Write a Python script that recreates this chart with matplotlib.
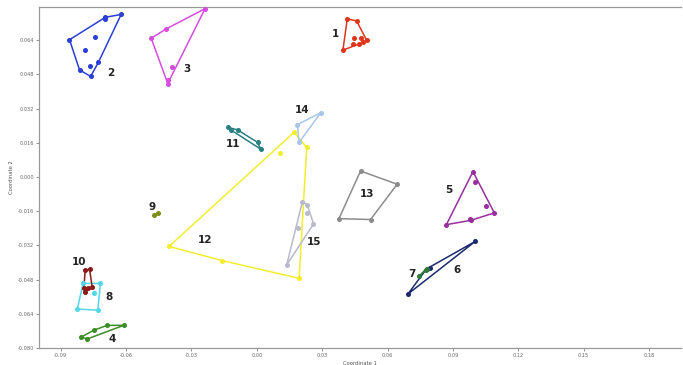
import numpy as np
import matplotlib.pyplot as plt

# cluster coordinates (Coordinate 1, Coordinate 2)
c1_x = [0.0415, 0.0458, 0.0504, 0.0395, 0.0446, 0.0480, 0.0443, 0.0487, 0.0469]
c1_y = [0.0739, 0.0730, 0.0639, 0.0593, 0.0651, 0.0649, 0.0622, 0.0630, 0.0622]
c2_x = [-0.0860, -0.0695, -0.0623, -0.0727, -0.0763, -0.0814, -0.0741, -0.0788, -0.0768, -0.0699]
c2_y = [0.0642, 0.0747, 0.0760, 0.0537, 0.0470, 0.0501, 0.0653, 0.0592, 0.0521, 0.0741]
c3_x = [-0.0485, -0.0238, -0.0409, -0.0417, -0.0391, -0.0406]
c3_y = [0.0649, 0.0787, 0.0437, 0.0692, 0.0515, 0.0452]
c4_x = [-0.0806, -0.0779, -0.0749, -0.0687, -0.0611]
c4_y = [-0.0749, -0.0758, -0.0717, -0.0694, -0.0694]
c5_x = [0.0992, 0.1090, 0.0870, 0.1003, 0.1052, 0.0980, 0.0982]
c5_y = [0.0025, -0.0168, -0.0223, -0.0022, -0.0137, -0.0195, -0.0203]
c6_x = [0.1003, 0.0693, 0.0797, 0.0779]
c6_y = [-0.0301, -0.0548, -0.0424, -0.0430]
c7_x = [0.0745, 0.0775, 0.0779]
c7_y = [-0.0465, -0.0433, -0.0430]
c8_x = [-0.0798, -0.0718, -0.0730, -0.0824, -0.0748]
c8_y = [-0.0498, -0.0498, -0.0623, -0.0618, -0.0542]
c9_x = [-0.0472, -0.0453]
c9_y = [-0.0179, -0.0170]
c10_x = [-0.0788, -0.0768, -0.0756, -0.0788, -0.0773, -0.0794]
c10_y = [-0.0435, -0.0432, -0.0513, -0.0537, -0.0521, -0.0521]
c11_x = [-0.0131, -0.0088, 0.0003, 0.0018, -0.0119]
c11_y = [0.0232, 0.0220, 0.0162, 0.0130, 0.0220]
c12_x = [0.0171, 0.0229, 0.0194, -0.0403, 0.0105, -0.0160]
c12_y = [0.0209, 0.0138, -0.0474, -0.0325, 0.0112, -0.0391]
c13_x = [0.0476, 0.0644, 0.0522, 0.0377]
c13_y = [0.0028, -0.0034, -0.0199, -0.0195]
c14_x = [0.0186, 0.0293, 0.0194]
c14_y = [0.0245, 0.0300, 0.0162]
c15_x = [0.0209, 0.0232, 0.0260, 0.0137, 0.0229, 0.0189]
c15_y = [-0.0116, -0.0129, -0.0220, -0.0411, -0.0168, -0.0239]

cluster_ids = list(range(1, 16))
cluster_xs = [c1_x, c2_x, c3_x, c4_x, c5_x, c6_x, c7_x, c8_x, c9_x, c10_x,
              c11_x, c12_x, c13_x, c14_x, c15_x]
cluster_ys = [c1_y, c2_y, c3_y, c4_y, c5_y, c6_y, c7_y, c8_y, c9_y, c10_y,
              c11_y, c12_y, c13_y, c14_y, c15_y]

colors = ['#e0351c', '#2b3fd6', '#d64ce0', '#3c8c28', '#982ea0',
          '#1b2a6e', '#2f7a3a', '#52d6e8', '#7d8f18', '#8b1a1a',
          '#2a8080', '#f2ee2e', '#8c8c8c', '#a9c6ea', '#b9b9cd']

# label positions in data coords
label_x = [0.0362, -0.0670, -0.0321, -0.0666, 0.0880, 0.0917, 0.0710, -0.0678,
           -0.0481, -0.0815, -0.0110, -0.0238, 0.0508, 0.0206, 0.0261]
label_y = [0.0669, 0.0485, 0.0504, -0.0758, -0.0061, -0.0433, -0.0452, -0.0560,
           -0.0141, -0.0396, 0.0155, -0.0297, -0.0080, 0.0311, -0.0302]


def convex_hull(pts):
    pts = sorted(set(pts))
    if len(pts) < 3:
        return pts
    def cross(o, a, b):
        return (a[0] - o[0]) * (b[1] - o[1]) - (a[1] - o[1]) * (b[0] - o[0])
    lower, upper = [], []
    for p in pts:
        while len(lower) >= 2 and cross(lower[-2], lower[-1], p) <= 0:
            lower.pop()
        lower.append(p)
    for p in reversed(pts):
        while len(upper) >= 2 and cross(upper[-2], upper[-1], p) <= 0:
            upper.pop()
        upper.append(p)
    return lower[:-1] + upper[:-1]


fig = plt.figure(figsize=(6.83, 3.65), dpi=100)
ax = fig.add_axes([39 / 683, 17 / 365, 642 / 683, 341 / 365])

for cid, xs, ys, col in zip(cluster_ids, cluster_xs, cluster_ys, colors):
    hull = convex_hull(list(zip(xs, ys)))
    hx = [p[0] for p in hull] + [hull[0][0]]
    hy = [p[1] for p in hull] + [hull[0][1]]
    ax.plot(hx, hy, color=col, lw=1.1, zorder=2)
    ax.plot(xs, ys, 'o', color=col, ms=2.6, mec=col, zorder=3)

for cid, lx, ly in zip(cluster_ids, label_x, label_y):
    ax.text(lx, ly, str(cid), fontsize=7.5, fontweight='bold', color='#222222',
            ha='center', va='center', zorder=4)

ax.set_xlim(-0.100, 0.1947)
ax.set_ylim(-0.080, 0.0795)
ax.set_xticks([-0.09, -0.06, -0.03, 0.00, 0.03, 0.06, 0.09, 0.12, 0.15, 0.18])
ax.set_xticklabels(['-0.09', '-0.06', '-0.03', '0.00', '0.03', '0.06', '0.09',
                    '0.12', '0.15', '0.18'])
ax.set_yticks([-0.080, -0.064, -0.048, -0.032, -0.016, 0.000, 0.016, 0.032,
               0.048, 0.064])
ax.set_yticklabels(['-0.080', '-0.064', '-0.048', '-0.032', '-0.016', '0.000',
                    '0.016', '0.032', '0.048', '0.064'])
ax.tick_params(labelsize=3.6, colors='#666666', length=2, width=0.5, pad=1.5)

for side in ['left', 'bottom', 'top']:
    ax.spines[side].set_color('#9a9a9a')
    ax.spines[side].set_linewidth(0.9)
ax.spines['right'].set_visible(False)

ax.set_xlabel('Coordinate 1', fontsize=3.8, color='#555555', labelpad=2)
ax.set_ylabel('Coordinate 2', fontsize=3.8, color='#555555', labelpad=3)

fig.savefig('out.png', dpi=100)
